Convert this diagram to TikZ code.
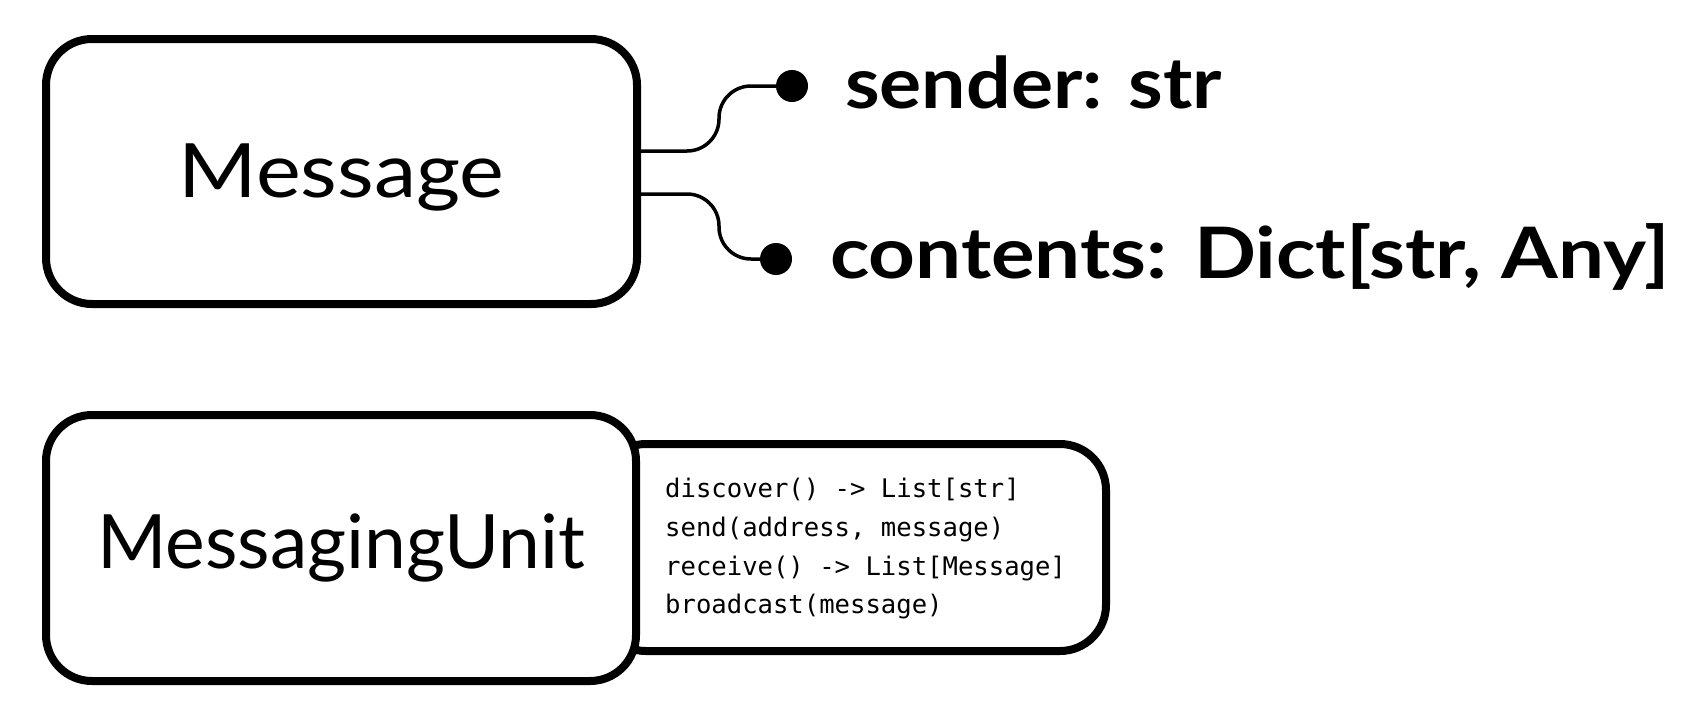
\documentclass[tikz,border=0pt]{standalone}
\usepackage{fontspec}
\setmainfont{Lato}
\setmonofont{DejaVu Sans Mono}
\newfontfamily\wideboldA[FakeStretch=1.11]{Lato Bold}
\newfontfamily\wideboldB[FakeStretch=1.15]{Lato Bold}
\newfontfamily\widereg[FakeStretch=1.13]{Lato}
\begin{document}
\begin{tikzpicture}[x=1pt,y=-1pt,
  box/.style={draw=black, line width=8pt, rounded corners=46pt, fill=white, inner sep=0pt},
  conn/.style={draw=black, line width=3.5pt, rounded corners=32pt},
  dot/.style={circle, fill=black, inner sep=0pt, minimum size=32pt},
  field/.style={anchor=base west, inner sep=0pt},
  meth/.style={anchor=base west, inner sep=0pt, font=\fontsize{25.6}{30}\selectfont\ttfamily},
  title/.style={font=\fontsize{75}{80}\selectfont}
]
\useasboundingbox (0,0) rectangle (1707,721);
% Message
\node[box, font=\widereg\fontsize{75}{80}\selectfont, minimum width=591pt, minimum height=265pt, text height=55pt, text depth=4pt] (msg) at (341.5,171.5) {Message};
\node[dot] (d1) at (792,86) {};
\node[dot] (d2) at (776,259) {};
\node[field, font=\wideboldA\fontsize{71}{80}\selectfont] (f1) at (845,108) {sender: str};
\node[field, font=\wideboldB\fontsize{71}{80}\selectfont] (f2) at (830,278) {contents: Dict[str, Any]};
\draw[conn] ([yshift=20.5pt]msg.east) -- ++(78,0) |- (d1.center);
\draw[conn] ([yshift=-22.5pt]msg.east) -- ++(78,0) |- (d2.center);
% Methods box
\node[box, minimum width=506pt, minimum height=207pt] (mbox) at (853,547.5) {};
\node[box, title, minimum width=590pt, minimum height=266pt, text height=54pt, text depth=13pt] (mu) at (341,548) {MessagingUnit};
\node[meth] (m1) at (665,497) {discover() -> List[str]};
\node[meth] (m2) at (665,536) {send(address, message)};
\node[meth] (m3) at (665,575) {receive() -> List[Message]};
\node[meth] (m4) at (665,613) {broadcast(message)};
\end{tikzpicture}
\end{document}
